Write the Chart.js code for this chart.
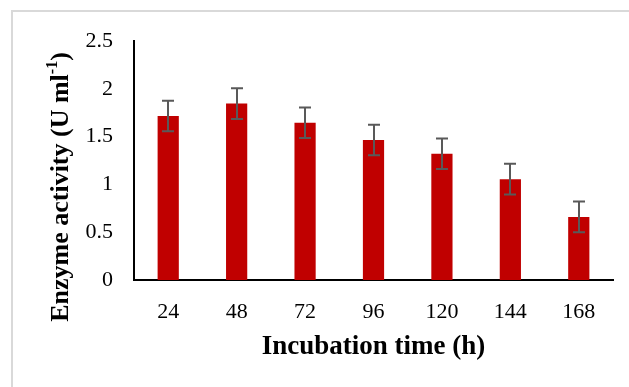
<!DOCTYPE html>
<html>
<head>
<meta charset="utf-8">
<script src="https://cdn.jsdelivr.net/npm/chart.js@4/dist/chart.umd.min.js"></script>
<style>
  html, body { margin: 0; padding: 0; background: #fff; }
  #wrap { position: relative; width: 629px; height: 387px; overflow: hidden; }
  canvas { position: absolute; left: 0; top: 0; }
</style>
</head>
<body>
<div id="wrap"><canvas id="c" width="629" height="387"></canvas></div>
<script>
const categories = ['24', '48', '72', '96', '120', '144', '168'];
const activity = [1.715, 1.845, 1.645, 1.465, 1.32, 1.055, 0.66];
const errors = [0.16, 0.16, 0.16, 0.16, 0.16, 0.16, 0.16];
const yTicks = [0, 0.5, 1, 1.5, 2, 2.5];
const xTitle = 'Incubation time (h)';
const yTitleParts = ['Enzyme activity (U ml', '-1', ')'];

const frame = {
  id: 'frame',
  beforeDraw(chart) {
    const ctx = chart.ctx;
    ctx.save();
    ctx.fillStyle = '#ffffff';
    ctx.fillRect(0, 0, chart.width, chart.height);
    ctx.strokeStyle = '#d9d9d9';
    ctx.lineWidth = 2;
    ctx.strokeRect(12, 11, 700, 500);
    ctx.restore();
  }
};

const yTitlePlugin = {
  id: 'yTitle',
  afterDraw(chart) {
    const ctx = chart.ctx;
    const main = 'bold 26px "Liberation Serif"';
    const sup = 'bold 16px "Liberation Serif"';
    ctx.save();
    ctx.font = main;
    const w0 = ctx.measureText(yTitleParts[0]).width;
    const w2 = ctx.measureText(yTitleParts[2]).width;
    ctx.font = sup;
    const w1 = ctx.measureText(yTitleParts[1]).width;
    const total = w0 + w1 + w2;
    ctx.translate(61, 187);
    ctx.rotate(-Math.PI / 2);
    ctx.fillStyle = '#000';
    ctx.textBaseline = 'middle';
    ctx.textAlign = 'left';
    let x = -total / 2;
    ctx.font = main;
    ctx.fillText(yTitleParts[0], x, 0);
    x += w0;
    ctx.font = sup;
    ctx.fillText(yTitleParts[1], x, -8);
    x += w1;
    ctx.font = main;
    ctx.fillText(yTitleParts[2], x, 0);
    ctx.restore();
  }
};

const errorBars = {
  id: 'errorBars',
  afterDatasetsDraw(chart) {
    const ctx = chart.ctx;
    const meta = chart.getDatasetMeta(0);
    const y = chart.scales.y;
    ctx.save();
    ctx.strokeStyle = '#595959';
    ctx.lineWidth = 2;
    meta.data.forEach((bar, i) => {
      const x = Math.round(bar.x);
      const hi = y.getPixelForValue(activity[i] + errors[i]);
      const lo = y.getPixelForValue(activity[i] - errors[i]);
      ctx.beginPath();
      ctx.moveTo(x, hi); ctx.lineTo(x, lo);
      ctx.moveTo(x - 6, hi); ctx.lineTo(x + 6, hi);
      ctx.moveTo(x - 6, lo); ctx.lineTo(x + 6, lo);
      ctx.stroke();
    });
    ctx.restore();
  }
};

new Chart(document.getElementById('c'), {
  type: 'bar',
  data: {
    labels: categories,
    datasets: [{
      data: activity,
      backgroundColor: '#c00000',
      borderWidth: 0,
      categoryPercentage: 1,
      barPercentage: 0.31
    }]
  },
  options: {
    responsive: false,
    animation: false,
    devicePixelRatio: 1,
    layout: { padding: { left: 12, top: 41, right: 16, bottom: 0 } },
    plugins: { legend: { display: false }, tooltip: { enabled: false } },
    scales: {
      x: {
        grid: { display: false, drawTicks: false },
        border: { display: true, color: '#000', width: 2 },
        ticks: { color: '#000', padding: 19, font: { family: 'Liberation Serif', size: 22 } },
        title: {
          display: true, text: xTitle, color: '#000',
          font: { family: 'Liberation Serif', size: 27, weight: 'bold' },
          padding: { top: 0, bottom: 24 }
        },
        afterFit(s) { s.height = 107; }
      },
      y: {
        min: 0, max: 2.5,
        grid: { display: false, drawTicks: false },
        border: { display: true, color: '#000', width: 2 },
        afterBuildTicks(s) { s.ticks = yTicks.map(v => ({ value: v })); },
        ticks: {
          color: '#000', padding: 21,
          font: { family: 'Liberation Serif', size: 22 },
          callback: v => String(v)
        },
        title: { display: false },
        afterFit(s) { s.width = 122; }
      }
    }
  },
  plugins: [frame, yTitlePlugin, errorBars]
});
</script>
</body>
</html>
